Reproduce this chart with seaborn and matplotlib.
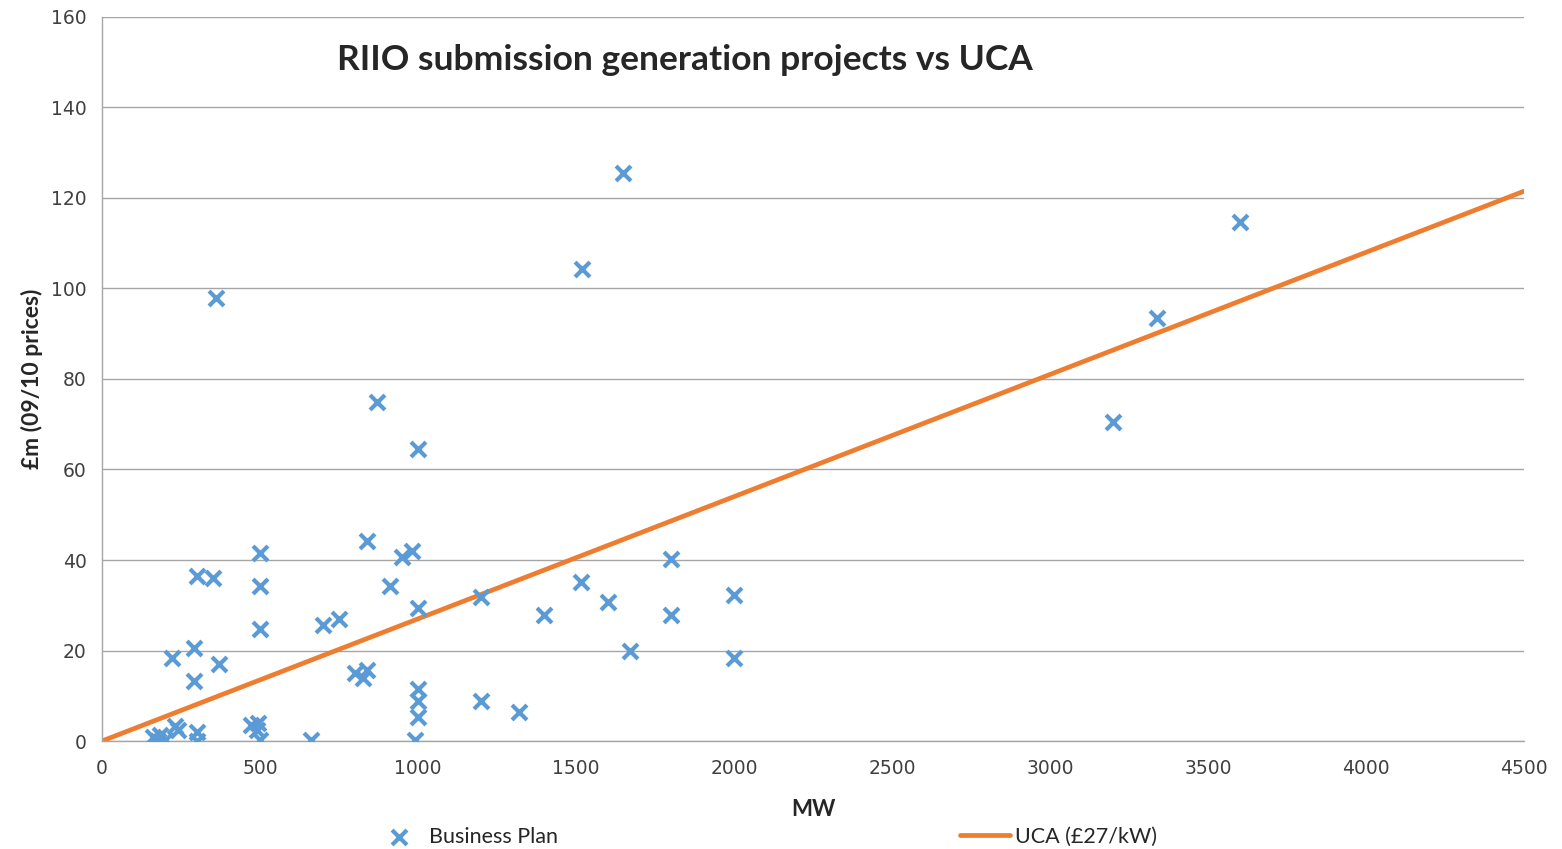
import seaborn as sns
import matplotlib.pyplot as plt
import pandas as pd
import matplotlib
matplotlib.use('Agg')

# Business plan projects: capacity (MW) and cost (£m, 09/10 prices)
mw = [1650, 1520, 3600, 3340, 3200, 360, 870, 1000, 840, 980, 950, 500, 500,
      910, 300, 350, 1515, 1800, 2000, 1200, 1600, 1000, 1400, 1800, 750, 700,
      500, 1670, 2000, 290, 220, 370, 290, 800, 825, 840, 1200, 1320, 1000,
      1000, 1000, 990, 660, 160, 185, 200, 178, 230, 240, 300, 300, 470, 495,
      490, 500]
cost = [125.5, 104.2, 114.7, 93.5, 70.5, 97.9, 74.9, 64.5, 44.2, 42.0, 40.7,
        41.5, 34.3, 34.3, 36.5, 36.0, 35.1, 40.2, 32.3, 31.8, 30.7, 29.4, 27.8,
        27.8, 27.0, 25.7, 24.8, 19.9, 18.3, 20.6, 18.3, 17.0, 13.3, 15.0, 14.0,
        15.7, 8.8, 6.4, 11.5, 8.8, 5.3, 0.2, 0.2, 0.9, 1.3, 0.2, 0.1, 3.3, 2.4,
        2.0, 0.1, 3.5, 4.0, 2.4, 0.2]

# UCA line at £27/kW
uca_mw = [0, 4500]
uca_cost = [0, 121.5]

blue = '#5B9BD5'
orange = '#ED7D31'

df = pd.DataFrame({'MW': mw, 'cost': cost})
uca = pd.DataFrame({'MW': uca_mw, 'cost': uca_cost})

sns.set_style('white')
plt.rcParams['font.family'] = ['DejaVu Sans']

fig = plt.figure(figsize=(15.62, 8.49), dpi=100)
ax = fig.add_axes([0.0653, 0.1272, 0.9104, 0.8528])

sns.scatterplot(data=df, x='MW', y='cost', marker='x', s=115, color=blue,
                linewidth=3, ax=ax, label='Business Plan', zorder=3)
sns.lineplot(data=uca, x='MW', y='cost', color=orange, linewidth=3.4,
             ax=ax, label='UCA (£27/kW)', zorder=2)

ax.set_xlim(0, 4500)
ax.set_ylim(0, 160)
ax.set_xticks(range(0, 4501, 500))
ax.set_yticks(range(0, 161, 20))
ax.grid(axis='y', color='#a6a6a6', linewidth=1)
ax.set_axisbelow(True)
for s in ['top', 'right']:
    ax.spines[s].set_visible(False)
for s in ['left', 'bottom']:
    ax.spines[s].set_color('#a6a6a6')
    ax.spines[s].set_linewidth(1)
ax.tick_params(axis='both', which='major', direction='out', length=7,
               color='#a6a6a6', width=1, labelsize=13.5, labelcolor='#404040')
ax.tick_params(axis='x', pad=6)
ax.tick_params(axis='y', pad=4)

ax.set_xlabel('MW', fontsize=16, fontweight='bold', family='Lato', labelpad=15)
ax.set_ylabel('£m (09/10 prices)', fontsize=16.5, fontweight='bold', family='Lato',
              labelpad=6)

fig.text(0.4385, 0.929, 'RIIO submission generation projects vs UCA',
         ha='center', va='center', fontsize=25.5, fontweight='bold', family='Lato')

ax.legend(loc='center', bbox_to_anchor=(0.4666, -0.132), ncol=2, frameon=False,
          prop={'family': 'Lato', 'size': 15.5}, columnspacing=18.7,
          handlelength=2.3, handletextpad=0.25)

plt.savefig('out.png', dpi=100)
plt.close()
